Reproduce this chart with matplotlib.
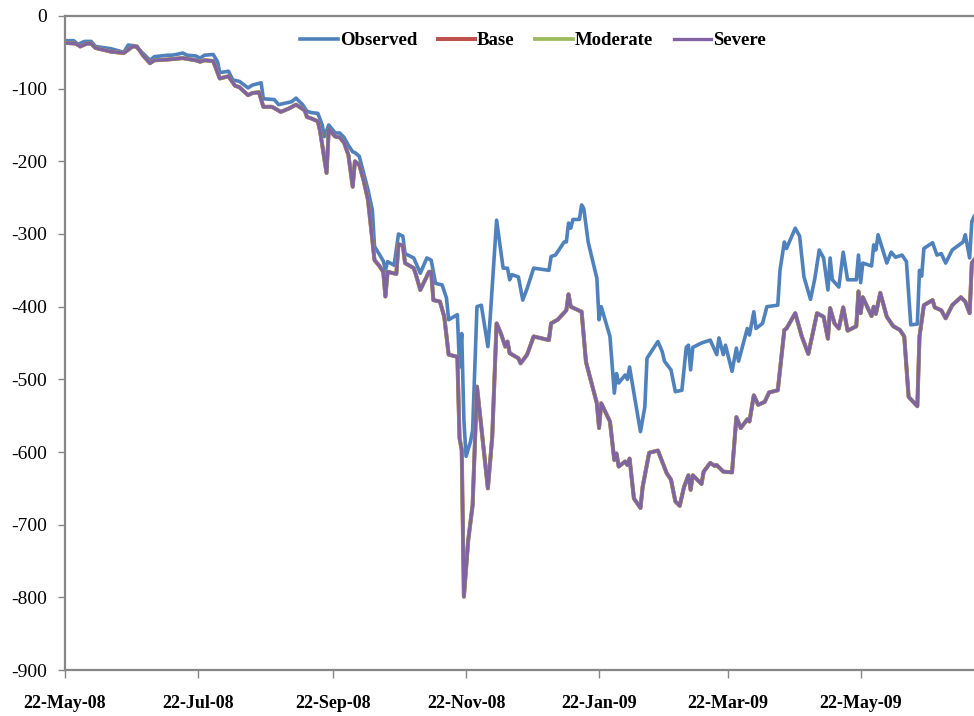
import datetime as dt
import matplotlib
matplotlib.use("Agg")
import matplotlib.pyplot as plt
import matplotlib.dates as mdates

# start of the series, x values are day offsets from it
start = dt.date(2008, 5, 22)

obs_days = [0, 4, 6, 9, 12, 14, 21, 27, 29, 32, 36, 39, 41, 47, 49, 51, 54, 56, 60, 62,
            64, 68, 70, 71, 75, 77, 80, 84, 86, 90, 91, 96, 98, 101, 104, 106, 109, 111, 113, 116,
            118, 119, 121, 124, 126, 128, 130, 132, 133, 135, 137, 139, 141, 142, 144, 146, 147, 148, 151, 153,
            155, 156, 160, 161, 163, 166, 168, 170, 173, 175, 176, 180, 181, 182, 183, 184, 186, 187, 189, 191,
            194, 195, 198, 201, 203, 204, 205, 208, 210, 212, 215, 222, 223, 225, 229, 230, 231, 232, 233, 236,
            237, 238, 240, 244, 245, 246, 250, 252, 253, 254, 257, 258, 259, 261, 264, 266, 267, 272, 274, 275,
            278, 280, 283, 285, 286, 287, 288, 292, 296, 299, 300, 302, 303, 306, 308, 309, 313, 314, 316, 317,
            320, 322, 327, 328, 330, 331, 335, 337, 339, 342, 344, 346, 348, 350, 351, 352, 355, 357, 359, 363,
            364, 365, 366, 370, 371, 372, 373, 377, 379, 381, 384, 386, 388, 391, 392, 393, 394, 398, 400, 402,
            404, 407, 412, 413, 415, 416, 417]
observed = [-34, -34, -39, -35, -35, -42, -45, -50, -40, -41, -52, -61, -56, -54, -54, -53, -51, -54, -55, -58,
            -54, -53, -63, -78, -76, -88, -90, -99, -95, -92, -114, -115, -122, -120, -118, -113, -122, -131, -133, -134,
            -150, -166, -150, -161, -161, -167, -178, -187, -188, -193, -216, -239, -267, -317, -327, -337, -350, -338, -343, -300,
            -303, -327, -333, -340, -354, -333, -336, -368, -370, -388, -418, -411, -483, -437, -556, -606, -586, -570, -400, -398,
            -455, -418, -281, -347, -347, -363, -356, -359, -391, -375, -347, -350, -331, -329, -311, -311, -285, -292, -280, -280,
            -260, -265, -311, -361, -418, -400, -441, -519, -492, -505, -494, -500, -483, -519, -572, -538, -471, -448, -462, -475,
            -487, -517, -515, -456, -453, -487, -456, -450, -446, -466, -443, -466, -453, -489, -457, -475, -430, -439, -407, -430,
            -423, -400, -398, -350, -311, -320, -292, -303, -359, -390, -361, -322, -333, -377, -333, -363, -373, -325, -363, -363,
            -329, -367, -340, -344, -315, -322, -301, -340, -325, -332, -329, -338, -425, -424, -350, -358, -320, -312, -329, -327,
            -340, -322, -311, -301, -333, -283, -276]

scen_days = [0, 5, 7, 10, 12, 14, 21, 27, 31, 33, 36, 39, 41, 47, 54, 60, 62, 64, 68, 69,
             71, 75, 78, 80, 84, 86, 89, 91, 95, 99, 103, 106, 110, 111, 113, 116, 117, 120, 121, 124,
             126, 128, 130, 132, 133, 135, 137, 139, 142, 144, 146, 147, 148, 152, 153, 155, 156, 160, 161, 163,
             167, 168, 169, 172, 174, 176, 180, 181, 182, 183, 185, 187, 189, 190, 194, 196, 198, 200, 202, 203,
             204, 208, 209, 212, 215, 222, 223, 226, 230, 231, 232, 237, 239, 244, 245, 246, 250, 252, 253, 254,
             257, 258, 259, 261, 264, 265, 268, 272, 276, 278, 280, 282, 284, 286, 287, 288, 292, 293, 296, 298,
             299, 302, 306, 308, 310, 313, 314, 316, 318, 321, 323, 327, 330, 331, 335, 338, 341, 345, 348, 350,
             351, 353, 355, 357, 359, 363, 364, 365, 366, 370, 371, 372, 374, 377, 380, 383, 385, 387, 391, 392,
             394, 398, 399, 402, 404, 407, 411, 413, 415, 416, 417]
scenario = [-37, -38, -42, -38, -38, -44, -49, -51, -42, -42, -55, -65, -61, -60, -58, -61, -63, -61, -62, -70,
            -86, -83, -96, -98, -109, -106, -105, -125, -125, -132, -127, -122, -130, -139, -141, -145, -158, -216, -156, -166,
            -167, -174, -191, -235, -200, -205, -226, -253, -336, -343, -352, -386, -352, -355, -314, -316, -340, -347, -356, -377,
            -352, -352, -391, -393, -414, -466, -469, -581, -597, -799, -721, -673, -510, -538, -650, -579, -423, -437, -455, -448,
            -464, -471, -478, -466, -441, -446, -423, -418, -405, -383, -400, -407, -476, -533, -567, -533, -558, -611, -602, -620,
            -613, -618, -609, -664, -677, -648, -601, -598, -629, -638, -668, -674, -648, -632, -652, -632, -644, -627, -615, -619,
            -618, -627, -628, -552, -567, -555, -558, -522, -535, -531, -518, -515, -432, -430, -409, -441, -465, -409, -414, -444,
            -402, -423, -430, -401, -433, -427, -379, -409, -387, -413, -400, -410, -381, -414, -427, -432, -441, -524, -537, -441,
            -398, -391, -401, -405, -416, -398, -387, -393, -409, -340, -336]

# the three stress scenarios coincide to within a pixel in the chart
base = scenario
moderate = scenario
severe = scenario

tick_dates = [dt.date(2008, 5, 22), dt.date(2008, 7, 22), dt.date(2008, 9, 22), dt.date(2008, 11, 22),
              dt.date(2009, 1, 22), dt.date(2009, 3, 22), dt.date(2009, 5, 22)]

obs_x = [start + dt.timedelta(days=d) for d in obs_days]
scen_x = [start + dt.timedelta(days=d) for d in scen_days]

plt.rcParams['font.family'] = ['Liberation Serif', 'DejaVu Serif']
plt.rcParams['axes.unicode_minus'] = False

fig = plt.figure(figsize=(9.74, 7.16), dpi=100)
ax = fig.add_axes([0.0667, 0.0642, 0.9333, 0.9135])

ax.plot(obs_x, observed, color='#4F81BD', lw=2.6, label='Observed')
ax.plot(scen_x, base, color='#C0504D', lw=2.9, label='Base')
ax.plot(scen_x, moderate, color='#9BBB59', lw=2.7, label='Moderate')
ax.plot(scen_x, severe, color='#8064A2', lw=2.4, label='Severe')

ax.set_ylim(-900, 0)
ax.set_yticks(range(-900, 1, 100))
ax.set_xlim(start, start + dt.timedelta(days=417))
ax.set_xticks(tick_dates)
ax.xaxis.set_major_formatter(mdates.DateFormatter('%d-%b-%y'))

for s in ['left', 'bottom', 'top']:
    ax.spines[s].set_color('#868686')
    ax.spines[s].set_linewidth(1.6)
ax.spines['right'].set_visible(False)

ax.tick_params(axis='y', length=5, width=1, color='#868686', labelsize=14, pad=8)
ax.tick_params(axis='x', length=6, width=1, color='#868686', labelsize=13, pad=12)
for lab in ax.get_xticklabels():
    lab.set_fontweight('bold')

leg = ax.legend(loc='center', bbox_to_anchor=(0.515, 0.962), ncol=4, frameon=False,
                prop={'weight': 'bold', 'size': 13.5}, handlelength=2.0, handletextpad=0.1,
                columnspacing=1.1)

fig.savefig('out.png', dpi=100)
